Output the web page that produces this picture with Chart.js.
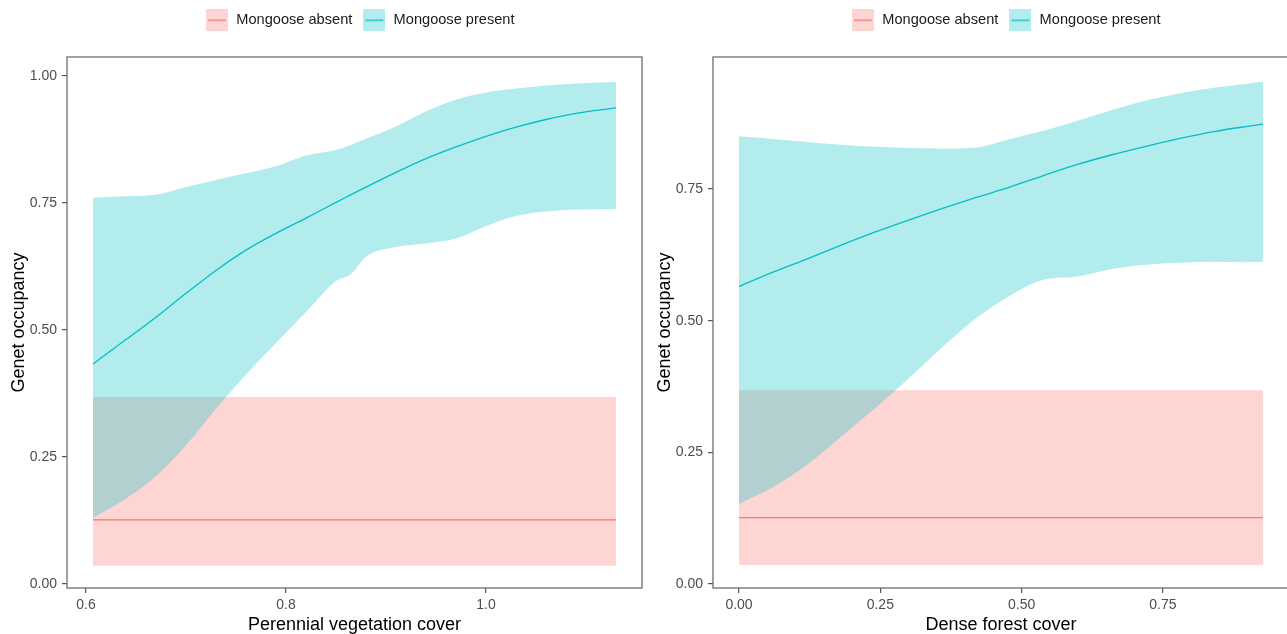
<!DOCTYPE html>
<html><head><meta charset="utf-8">
<script src="https://cdn.jsdelivr.net/npm/chart.js@4.4.1/dist/chart.umd.min.js"></script>
<style>
html,body{margin:0;padding:0;background:#fff;overflow:hidden;width:1287px;height:634px;position:relative;}
#c1{position:absolute;left:0;top:0;}
#c2{position:absolute;left:646px;top:0;}
</style></head><body>
<canvas id="c1" width="650" height="634"></canvas>
<canvas id="c2" width="650" height="634"></canvas>
<script>
// ---------- data ----------
const seriesNames = ['Mongoose absent', 'Mongoose present'];
const yTitle = 'Genet occupancy';

// Panel 1: Perennial vegetation cover
const vegTitle = 'Perennial vegetation cover';
const vegX       = [0.607, 0.64, 0.67, 0.70, 0.73, 0.76, 0.79, 0.82, 0.85, 0.865, 0.88, 0.91, 0.94, 0.97, 1.00, 1.03, 1.06, 1.09, 1.13];
const vegPresent = [0.433, 0.481, 0.525, 0.572, 0.617, 0.657, 0.690, 0.720, 0.751, 0.766, 0.781, 0.810, 0.837, 0.860, 0.881, 0.899, 0.914, 0.926, 0.937];
const vegPresLo  = [0.130, 0.168, 0.212, 0.273, 0.345, 0.412, 0.474, 0.535, 0.596, 0.610, 0.644, 0.663, 0.670, 0.680, 0.704, 0.724, 0.733, 0.737, 0.738];
const vegPresHi  = [0.760, 0.763, 0.766, 0.781, 0.795, 0.808, 0.822, 0.843, 0.854, 0.864, 0.876, 0.900, 0.930, 0.953, 0.967, 0.975, 0.981, 0.985, 0.988];
const vegAbsX    = [0.607, 1.13];
const vegAbsent  = [0.126, 0.126];
const vegAbsLo   = [0.036, 0.036];
const vegAbsHi   = [0.368, 0.368];
const vegXTicks  = [0.6, 0.8, 1.0];
const vegXLabels = ['0.6', '0.8', '1.0'];
const vegYTicks  = [0, 0.25, 0.5, 0.75, 1.0];
const vegYLabels = ['0.00', '0.25', '0.50', '0.75', '1.00'];

// Panel 2: Dense forest cover
const forTitle = 'Dense forest cover';
const forX       = [0, 0.06, 0.12, 0.18, 0.24, 0.30, 0.36, 0.42, 0.48, 0.54, 0.60, 0.66, 0.72, 0.78, 0.84, 0.90, 0.927];
const forPresent = [0.565, 0.592, 0.617, 0.643, 0.668, 0.691, 0.713, 0.734, 0.754, 0.776, 0.797, 0.815, 0.831, 0.846, 0.859, 0.869, 0.873];
const forPresLo  = [0.152, 0.184, 0.226, 0.279, 0.333, 0.390, 0.450, 0.505, 0.548, 0.578, 0.584, 0.598, 0.606, 0.610, 0.612, 0.611, 0.612];
const forPresHi  = [0.850, 0.845, 0.839, 0.834, 0.830, 0.828, 0.827, 0.829, 0.845, 0.861, 0.880, 0.900, 0.918, 0.932, 0.942, 0.950, 0.954];
const forAbsX    = [0, 0.927];
const forAbsent  = [0.126, 0.126];
const forAbsLo   = [0.036, 0.036];
const forAbsHi   = [0.368, 0.368];
const forXTicks  = [0, 0.25, 0.5, 0.75];
const forXLabels = ['0.00', '0.25', '0.50', '0.75'];
const forYTicks  = [0, 0.25, 0.5, 0.75];
const forYLabels = ['0.00', '0.25', '0.50', '0.75'];

// ---------- styling ----------
const RED = '#F8766D', TEAL = '#00BFC4';
const RED_FILL = 'rgba(248,118,109,0.3)', TEAL_FILL = 'rgba(0,191,196,0.3)';
const FONT = "'Liberation Sans', Arial, Helvetica, sans-serif";

function makeKey(fill, line) {
  const c = document.createElement('canvas');
  c.width = 22; c.height = 22;
  const g = c.getContext('2d');
  g.fillStyle = fill; g.fillRect(0, 0, 22, 22);
  g.strokeStyle = line; g.lineWidth = 1.3;
  g.beginPath(); g.moveTo(2, 11); g.lineTo(20, 11); g.stroke();
  return c;
}
const keyAbsent = makeKey(RED_FILL, RED);
const keyPresent = makeKey(TEAL_FILL, TEAL);

function pts(xs, ys) { return xs.map((x, i) => ({x: x, y: ys[i]})); }

const borderPlugin = {
  id: 'panelBorder',
  afterDatasetsDraw(chart) {
    const a = chart.chartArea, ctx = chart.ctx;
    ctx.save();
    ctx.strokeStyle = '#6e6e6e';
    ctx.lineWidth = 1.3;
    ctx.strokeRect(a.left, a.top, a.right - a.left, a.bottom - a.top);
    ctx.restore();
  }
};
const legendShift = {
  id: 'legendShift',
  afterLayout(chart) {
    const lg = chart.legend;
    if (!lg) return;
    const w = lg.right - lg.left;
    lg.left = 195; lg.right = lg.left + w;
    lg.top += 3; lg.bottom += 3;
  }
};

function makeChart(id, o) {
  const datasets = [
    {label: 'absLo', data: pts(o.absX, o.absLo), borderWidth: 0, pointRadius: 0, fill: false, order: 6},
    {label: 'absHi', data: pts(o.absX, o.absHi), borderWidth: 0, pointRadius: 0, fill: '-1', backgroundColor: RED_FILL, order: 5},
    {label: 'presLo', data: pts(o.x, o.presLo), borderWidth: 0, pointRadius: 0, fill: false, order: 4},
    {label: 'presHi', data: pts(o.x, o.presHi), borderWidth: 0, pointRadius: 0, fill: '-1', backgroundColor: TEAL_FILL, order: 3},
    {label: seriesNames[0], data: pts(o.absX, o.absent), borderColor: RED, borderWidth: 1.3, pointRadius: 0, fill: false, order: 2},
    {label: seriesNames[1], data: pts(o.x, o.present), borderColor: TEAL, borderWidth: 1.3, pointRadius: 0, fill: false, order: 1}
  ];
  datasets.forEach(d => { d.xAxisID = 'x'; d.yAxisID = 'y'; d.cubicInterpolationMode = 'monotone'; });
  return new Chart(document.getElementById(id), {
    type: 'line',
    data: {datasets: datasets},
    plugins: [borderPlugin, legendShift],
    options: {
      responsive: false,
      animation: false,
      layout: {padding: {left: 0, right: o.padRight, top: 0, bottom: 0}},
      plugins: {
        tooltip: {enabled: false},
        legend: {
          display: true,
          position: 'top',
          align: 'start',
          labels: {
            usePointStyle: true,
            pointStyleWidth: 24,
            padding: 10,
            color: '#1a1a1a',
            font: {family: FONT, size: 14.6},
            generateLabels: () => [
              {text: seriesNames[0], pointStyle: keyAbsent, fillStyle: RED_FILL, strokeStyle: RED, lineWidth: 0, hidden: false, datasetIndex: 4, fontColor: '#1a1a1a'},
              {text: seriesNames[1], pointStyle: keyPresent, fillStyle: TEAL_FILL, strokeStyle: TEAL, lineWidth: 0, hidden: false, datasetIndex: 5, fontColor: '#1a1a1a'}
            ]
          }
        }
      },
      scales: {
        x: {
          type: 'linear', position: 'bottom', min: o.xmin, max: o.xmax,
          afterBuildTicks: s => { s.ticks = o.xTicks.map(v => ({value: v})); },
          afterFit: s => { s.height = 46; },
          ticks: {
            color: '#4D4D4D', font: {family: FONT, size: 14}, padding: 4, maxRotation: 0,
            callback: (v) => { const i = o.xTicks.indexOf(v); return i >= 0 ? o.xLabels[i] : ''; }
          },
          grid: {display: true, drawOnChartArea: false, drawTicks: true, tickLength: 5, color: '#555', lineWidth: 1.2},
          border: {display: false},
          title: {display: true, text: o.xTitle, color: '#000', font: {family: FONT, size: 18}, padding: {top: 0, bottom: -2}}
        },
        spacer: {
          type: 'linear', position: 'top', min: 0, max: 1, display: true,
          ticks: {display: false},
          grid: {display: false, drawTicks: false},
          border: {display: false},
          afterFit: s => { s.height = 57 - (s.chart.legend ? s.chart.legend.height : 0); }
        },
        y: {
          type: 'linear', position: 'left', min: o.ymin, max: o.ymax,
          afterBuildTicks: s => { s.ticks = o.yTicks.map(v => ({value: v})); },
          afterFit: s => { s.width = 67; },
          ticks: {
            color: '#4D4D4D', font: {family: FONT, size: 14}, padding: 5,
            callback: (v) => { const i = o.yTicks.indexOf(v); return i >= 0 ? o.yLabels[i] : ''; }
          },
          grid: {display: true, drawOnChartArea: false, drawTicks: true, tickLength: 5, color: '#555', lineWidth: 1.2},
          border: {display: false},
          title: {display: true, text: yTitle, color: '#000', font: {family: FONT, size: 18}, padding: {top: 8, bottom: 0}}
        }
      }
    }
  });
}

makeChart('c1', {
  x: vegX, present: vegPresent, presLo: vegPresLo, presHi: vegPresHi,
  absX: vegAbsX, absent: vegAbsent, absLo: vegAbsLo, absHi: vegAbsHi,
  xTicks: vegXTicks, xLabels: vegXLabels, yTicks: vegYTicks, yLabels: vegYLabels,
  xTitle: vegTitle, xmin: 0.581, xmax: 1.156, ymin: -0.008, ymax: 1.037, padRight: 8
});
makeChart('c2', {
  x: forX, present: forPresent, presLo: forPresLo, presHi: forPresHi,
  absX: forAbsX, absent: forAbsent, absLo: forAbsLo, absHi: forAbsHi,
  xTicks: forXTicks, xLabels: forXLabels, yTicks: forYTicks, yLabels: forYLabels,
  xTitle: forTitle, xmin: -0.046, xmax: 0.973, ymin: -0.0076, ymax: 1.0006, padRight: 7
});
</script>
</body></html>
